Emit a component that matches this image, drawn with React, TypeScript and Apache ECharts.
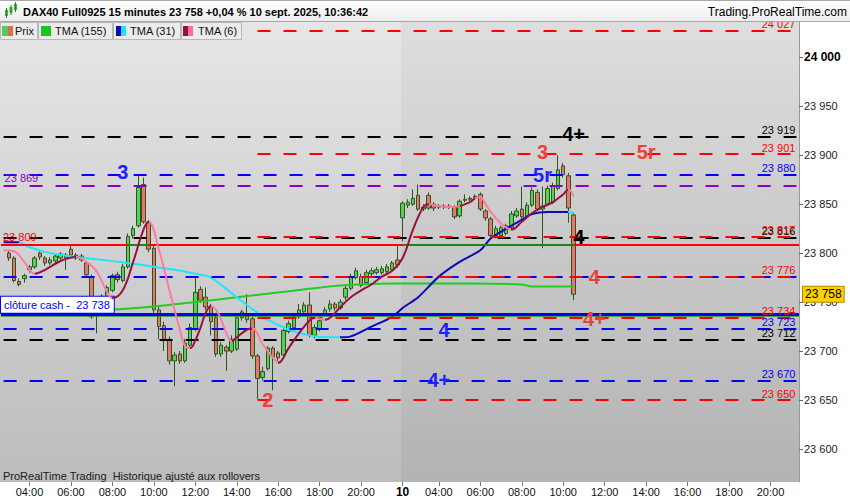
import React, { useEffect, useRef } from 'react';
import * as echarts from 'echarts';

const FONT = '"Liberation Sans", Arial, Helvetica, sans-serif';

// ---------- time axis (15-minute bars, two sessions) ----------
function buildTimes(start: string, end: string): string[] {
  const toMin = (s: string) => parseInt(s.slice(0, 2), 10) * 60 + parseInt(s.slice(3), 10);
  const out: string[] = [];
  for (let m = toMin(start); m <= toMin(end); m += 15) {
    const h = Math.floor(m / 60);
    const mm = m % 60;
    out.push(`${String(h).padStart(2, '0')}:${String(mm).padStart(2, '0')}`);
  }
  return out;
}
const day9Times = buildTimes('02:45', '21:45');
const day10Times = buildTimes('02:15', '21:15');
const categories = [...day9Times.map((t) => `9 ${t}`), ...day10Times.map((t) => `10 ${t}`)];
const lastCategory = categories[categories.length - 1];

const hourLabels = ['04:00', '06:00', '08:00', '10:00', '12:00', '14:00', '16:00', '18:00', '20:00'];
const dayStartCategory = '10 02:15';
const dayStartLabel = '10';
const yTicks = [23600, 23650, 23700, 23750, 23800, 23850, 23900, 23950, 24000];
const Y_MIN = 23566.3;
const Y_MAX = 24036;

// ---------- candles [open, close, low, high] ----------
const day9Candles: any[] = [
  '-',
  [23800, 23795, 23792, 23803], [23795, 23772, 23770, 23797], [23771, 23768, 23766, 23774],
  [23774, 23777, 23770, 23779], [23783, 23786, 23780, 23788], [23786, 23795, 23784, 23797],
  [23800, 23796, 23793, 23802], [23795, 23790, 23787, 23797], [23790, 23793, 23788, 23796],
  [23792, 23797, 23790, 23799], [23795, 23799, 23793, 23801], [23798, 23795, 23783, 23800],
  [23804, 23798, 23796, 23808], [23798, 23795, 23793, 23800], [23793, 23797, 23791, 23799],
  [23790, 23778, 23776, 23792], [23776, 23735, 23733, 23778], [23736, 23745, 23718, 23748],
  [23745, 23756, 23742, 23758], [23755, 23765, 23752, 23767], [23762, 23777, 23760, 23779],
  [23778, 23773, 23770, 23781], [23772, 23786, 23770, 23789], [23786, 23817, 23784, 23820],
  [23818, 23825, 23815, 23828], [23828, 23867, 23826, 23880], [23870, 23832, 23830, 23877],
  [23831, 23804, 23801, 23834], [23805, 23742, 23738, 23808], [23742, 23725, 23712, 23745],
  [23726, 23712, 23700, 23730], [23712, 23690, 23686, 23715], [23690, 23696, 23664, 23699],
  [23697, 23690, 23687, 23700], [23690, 23708, 23688, 23712], [23706, 23724, 23704, 23728],
  [23723, 23760, 23720, 23775], [23763, 23752, 23749, 23766], [23755, 23745, 23742, 23765],
  [23745, 23730, 23716, 23748], [23734, 23697, 23694, 23737], [23697, 23706, 23694, 23709],
  [23704, 23700, 23680, 23706], [23700, 23712, 23698, 23716], [23702, 23734, 23700, 23737],
  [23734, 23740, 23731, 23742], [23738, 23732, 23729, 23758], [23733, 23695, 23692, 23735],
  [23695, 23672, 23651, 23697], [23673, 23679, 23670, 23684], [23682, 23703, 23680, 23705],
  [23703, 23694, 23660, 23705], [23698, 23693, 23690, 23700], [23696, 23721, 23694, 23723],
  [23720, 23728, 23718, 23731], [23724, 23735, 23722, 23738], [23735, 23742, 23733, 23748],
  [23740, 23747, 23738, 23750], [23747, 23716, 23714, 23760], [23716, 23724, 23713, 23727],
  [23722, 23731, 23720, 23734], [23738, 23742, 23735, 23745], [23743, 23748, 23740, 23752],
  [23748, 23744, 23741, 23750], [23744, 23750, 23742, 23753], [23755, 23764, 23752, 23767],
  [23764, 23776, 23762, 23779], [23775, 23782, 23773, 23785], [23776, 23767, 23765, 23779],
  [23770, 23780, 23768, 23783], [23779, 23782, 23776, 23785], [23780, 23783, 23778, 23786],
  [23780, 23784, 23778, 23787], [23781, 23786, 23779, 23789], [23783, 23790, 23781, 23792],
  [23793, 23788, 23785, 23808],
];
const day10Candles: any[] = [
  [23836, 23851, 23812, 23853], [23849, 23852, 23846, 23855], [23850, 23856, 23848, 23865],
  [23859, 23845, 23843, 23870], [23845, 23847, 23843, 23850], [23859, 23846, 23844, 23862],
  [23850, 23846, 23843, 23852], [23848, 23847, 23845, 23850], [23847, 23848, 23845, 23850],
  [23848, 23847, 23845, 23850], [23847, 23837, 23835, 23849], [23838, 23853, 23836, 23855],
  [23854, 23855, 23852, 23860], [23855, 23856, 23853, 23858], [23857, 23858, 23855, 23860],
  [23860, 23845, 23843, 23862], [23843, 23836, 23833, 23845], [23835, 23818, 23815, 23837],
  [23818, 23825, 23815, 23828], [23818, 23826, 23816, 23828], [23820, 23828, 23818, 23830],
  [23826, 23840, 23824, 23843], [23838, 23843, 23836, 23846], [23845, 23837, 23835, 23868],
  [23837, 23849, 23835, 23852], [23849, 23864, 23847, 23867], [23862, 23845, 23843, 23865],
  [23845, 23848, 23805, 23868], [23850, 23866, 23848, 23869], [23852, 23868, 23850, 23872],
  [23866, 23885, 23864, 23900], [23889, 23880, 23877, 23892], [23879, 23846, 23831, 23882],
  [23839, 23758, 23752, 23841],
];
const lastPrice = 23758;

// ---------- moving averages, [bar index, value] ----------
const tma155Points = [
  [0, 23739], [13, 23740], [28, 23745], [37, 23750], [45, 23755], [55, 23761], [65, 23767],
  [75, 23769], [90, 23769], [100, 23768], [102, 23766], [110, 23766],
];
const tma31Points = [
  [0, 23811], [3, 23811], [5, 23806], [9, 23800], [14, 23796], [19, 23793], [24, 23790],
  [29, 23786], [33, 23783], [36, 23780], [40, 23775], [44, 23759], [48, 23743], [51, 23732],
  [55, 23722], [59, 23716], [63, 23714], [65, 23714], [67, 23715], [71, 23725], [75, 23735],
  [77, 23744], [80, 23755], [84, 23776], [88, 23791], [92, 23803], [94, 23815], [97, 23825],
  [100, 23834], [102, 23840], [105, 23842], [107, 23842], [109, 23842], [110, 23841],
];
const tma31Turns = [3, 65, 109]; // blue -> cyan -> blue -> cyan
const tma6Points = [
  [0, 23803], [2, 23802], [4, 23791], [6, 23779], [8, 23783], [11, 23792], [14, 23796],
  [16, 23791], [18, 23781], [20, 23760], [21, 23754], [23, 23762], [25, 23791], [27, 23824],
  [28, 23832], [30, 23803], [32, 23762], [34, 23722], [35, 23705], [36, 23703], [37, 23711],
  [38, 23724], [39, 23739], [40, 23746], [41, 23742], [42, 23732], [43, 23718], [44, 23710],
  [45, 23714], [47, 23722], [48, 23723], [50, 23707], [52, 23693], [53, 23688], [55, 23703],
  [57, 23718], [59, 23731], [60, 23734], [61, 23733], [62, 23732], [63, 23734], [65, 23745],
  [67, 23755], [69, 23762], [71, 23768], [73, 23776], [75, 23782], [77, 23795], [79, 23824],
  [81, 23847], [82, 23850], [84, 23848], [86, 23847], [88, 23848], [90, 23852], [91, 23856],
  [92, 23857], [93, 23850], [94, 23842], [96, 23830], [97, 23826], [98, 23824], [100, 23832],
  [102, 23841], [104, 23847], [106, 23852], [108, 23860], [109, 23865], [110, 23858],
];
const tma6Turns = [6, 14, 21, 28, 36, 40, 44, 48, 53, 60, 62, 82, 88, 91, 98, 109]; // starts falling

// ---------- horizontal levels ----------
const redDashedLevels = [24027, 23901, 23817, 23776, 23734, 23650];
const redDashedFrom = '9 15:00';
const blueDashedLevels = [23880, 23776, 23723, 23670];
const blueDashedUnlabelled = [23776];
const blackDashedLevels = [23919, 23816, 23712];
const purpleDashedLevel = 23869;
const redSolidLevel = 23809;
const greenSolidSegments = [['9 08:45', '9 09:45'], ['10 02:15', '10 10:30']];
const greenThinLevel = 23736.5;
const cashCloseLevel = 23738;
const cashCloseText = 'clôture cash -  23 738';

// ---------- wave annotations [text, bar, value] ----------
const blueWaves: [string, string, number][] = [
  ['3', '9 08:30', 23883], ['4', '10 04:15', 23722], ['4+', '10 04:00', 23670], ['5r', '10 09:00', 23880],
];
const redWaves: [string, string, number][] = [
  ['2', '9 15:30', 23650], ['3', '10 09:00', 23903], ['5r', '10 14:00', 23903],
  ['4', '10 11:30', 23776], ['4+', '10 11:30', 23733],
];
const blackWaves: [string, string, number][] = [
  ['4+', '10 10:30', 23922], ['4', '10 10:45', 23816],
];

const RED = '#ff0000';
const BLUE = '#0000ff';
const BLACK = '#000000';
const PURPLE = '#8a00c8';
const WAVE_BLUE = '#1f1fff';
const WAVE_RED = '#e8423a';

const fmt = (v: number) => String(Math.round(v)).replace(/\B(?=(\d{3})+(?!\d))/g, ' ');

function pieces(turns: number[], first: string, second: string) {
  const out: any[] = [];
  let prev: number | null = null;
  turns.forEach((t, k) => {
    const p: any = { color: k % 2 === 0 ? first : second, lt: t };
    if (prev !== null) p.gte = prev;
    out.push(p);
    prev = t;
  });
  out.push({ gte: prev, color: turns.length % 2 === 0 ? first : second });
  return out;
}

function dashed(value: number, color: string, from: string, withLabel: boolean) {
  return [
    {
      coord: [from, value],
      lineStyle: { color, type: [13, 13], width: 2 },
      label: withLabel
        ? { show: true, position: 'insideEndTop', formatter: fmt(value), color, fontSize: 11, fontFamily: FONT, distance: [1, 1] }
        : { show: false },
    },
    { coord: [lastCategory, value] },
  ];
}

function buildOption() {
  const lg = (a: string, b: string) =>
    new echarts.graphic.LinearGradient(0, 0, 0, 1, [
      { offset: 0, color: a },
      { offset: 1, color: b },
    ]);

  const markLines: any[] = [];
  blueDashedLevels.forEach((v) => markLines.push(dashed(v, BLUE, categories[0], !blueDashedUnlabelled.includes(v))));
  blackDashedLevels.forEach((v) => markLines.push(dashed(v, BLACK, categories[0], true)));
  const purple = dashed(purpleDashedLevel, PURPLE, categories[0], false);
  (purple[0] as any).label = {
    show: true, position: 'insideStartTop', formatter: fmt(purpleDashedLevel), color: PURPLE, fontSize: 11, fontFamily: FONT, distance: [1, 2],
  };
  markLines.push(purple);
  redDashedLevels.forEach((v) => markLines.push(dashed(v, RED, redDashedFrom, true)));
  markLines.push({
    yAxis: redSolidLevel,
    lineStyle: { color: RED, type: 'solid', width: 2 },
    label: { show: true, position: 'insideStartTop', formatter: fmt(redSolidLevel), color: RED, fontSize: 11, fontFamily: FONT, distance: [2, 2] },
  });
  greenSolidSegments.forEach(([a, b]) =>
    markLines.push([
      { coord: [a, redSolidLevel], lineStyle: { color: '#138a13', type: 'solid', width: 2 }, label: { show: false } },
      { coord: [b, redSolidLevel] },
    ])
  );
  markLines.push({ yAxis: greenThinLevel, lineStyle: { color: '#1e9a1e', type: 'solid', width: 1.5 }, label: { show: false } });
  markLines.push({
    yAxis: cashCloseLevel,
    lineStyle: { color: BLUE, type: 'solid', width: 3 },
    label: {
      show: true, position: 'insideStartTop', formatter: cashCloseText, color: BLUE, fontSize: 11, fontFamily: FONT,
      backgroundColor: '#ffffff', borderColor: BLUE, borderWidth: 1, padding: [3, 4, 2, 3], distance: [0, 1],
    },
  });
  markLines.push({
    yAxis: lastPrice,
    lineStyle: { color: 'rgba(0,0,0,0)', width: 1 },
    label: {
      show: true, position: 'end', formatter: fmt(lastPrice), color: '#000', fontSize: 12, fontFamily: FONT,
      backgroundColor: '#ffd000', borderColor: '#b08a00', borderWidth: 1, padding: [2, 2, 1, 2], distance: 4,
    },
  });

  const wavePoint = (w: [string, string, number], color: string) => ({
    coord: [w[1], w[2]],
    value: w[0],
    symbol: 'circle',
    symbolSize: 1,
    itemStyle: { color: 'rgba(0,0,0,0)' },
    label: { show: true, position: 'inside', formatter: w[0], color, fontSize: 20, fontWeight: 'bold', fontFamily: FONT },
  });
  const markPoints = [
    ...blueWaves.map((w) => wavePoint(w, WAVE_BLUE)),
    ...redWaves.map((w) => wavePoint(w, WAVE_RED)),
    ...blackWaves.map((w) => wavePoint(w, '#000')),
  ];

  const isMarked = (v: string) => {
    const [, t] = v.split(' ');
    return hourLabels.includes(t) || v === dayStartCategory;
  };

  const txt = (text: string, x: number, y: number, font: string, fill = '#111', align = 'left') => ({
    type: 'text', z: 101, silent: true,
    style: { text, x, y, font, fill, textAlign: align, textVerticalAlign: 'middle' },
  });
  const box = (x: number, w: number) => ({
    type: 'rect', z: 100, silent: true,
    shape: { x: x + 0.5, y: 22.5, width: w, height: 17 },
    style: { fill: '#ebebeb', stroke: '#b8b8b8', lineWidth: 1 },
  });
  const sq = (x: number, w: number, fill: string) => ({
    type: 'rect', z: 102, silent: true, shape: { x, y: 26, width: w, height: 10 }, style: { fill },
  });

  return {
    animation: false,
    backgroundColor: '#ffffff',
    textStyle: { fontFamily: FONT },
    grid: { left: 1, right: 51, top: 22, bottom: 18 },
    xAxis: {
      type: 'category',
      data: categories,
      boundaryGap: true,
      axisLine: { show: false },
      axisTick: { show: true, interval: (_i: number, v: string) => isMarked(v), alignWithLabel: true, length: 4, lineStyle: { color: '#777' } },
      axisLabel: {
        interval: (_i: number, v: string) => isMarked(v),
        formatter: (v: string) => (v === dayStartCategory ? `{b|${dayStartLabel}}` : v.split(' ')[1]),
        color: '#111', fontSize: 11, margin: 4, fontFamily: FONT,
        rich: { b: { fontWeight: 'bold', fontSize: 12, color: '#000', fontFamily: FONT } },
      },
      splitLine: { show: false },
    },
    yAxis: {
      type: 'value',
      position: 'right',
      min: Y_MIN,
      max: Y_MAX,
      axisLine: { show: true, lineStyle: { color: '#9a9a9a' } },
      axisTick: { show: true, length: 4, customValues: yTicks, lineStyle: { color: '#666' } },
      axisLabel: {
        customValues: yTicks,
        formatter: (v: number) => (v === 24000 ? `{b|${fmt(v)}}` : fmt(v)),
        color: '#222', fontSize: 11, margin: 5, fontFamily: FONT,
        rich: { b: { fontWeight: 'bold', fontSize: 12, color: '#000', fontFamily: FONT } },
      },
      splitLine: { show: false },
    },
    visualMap: [
      { type: 'piecewise', show: false, dimension: 0, seriesIndex: 2, pieces: pieces(tma31Turns, '#0a0ab8', '#20e4ff') },
      { type: 'piecewise', show: false, dimension: 0, seriesIndex: 3, pieces: pieces(tma6Turns, '#ff7aa2', '#9a0f3e') },
    ],
    graphic: {
      elements: [
        { type: 'rect', z: -10, silent: true, shape: { x: 0, y: 22, width: 401, height: 460 }, style: { fill: lg('#e6e6e6', '#bcbcbc') } },
        { type: 'rect', z: -10, silent: true, shape: { x: 401, y: 22, width: 398, height: 460 }, style: { fill: lg('#dedede', '#b3b3b3') } },
        { type: 'rect', z: 99, silent: true, shape: { x: -1, y: 0.5, width: 852, height: 21 }, style: { fill: lg('#ffffff', '#ececec'), stroke: '#a8a8a8', lineWidth: 1 } },
        { type: 'rect', z: 101, silent: true, shape: { x: 5, y: 10, width: 3, height: 6 }, style: { fill: '#3cb93c' } },
        { type: 'rect', z: 101, silent: true, shape: { x: 9.5, y: 7, width: 3, height: 6 }, style: { fill: '#3cb93c' } },
        { type: 'rect', z: 101, silent: true, shape: { x: 14, y: 4, width: 3, height: 6 }, style: { fill: '#3cb93c' } },
        { type: 'line', z: 101, silent: true, shape: { x1: 6.5, y1: 8, x2: 6.5, y2: 18 }, style: { stroke: '#2e7d2e', lineWidth: 1 } },
        { type: 'line', z: 101, silent: true, shape: { x1: 11, y1: 5, x2: 11, y2: 15 }, style: { stroke: '#2e7d2e', lineWidth: 1 } },
        { type: 'line', z: 101, silent: true, shape: { x1: 15.5, y1: 2, x2: 15.5, y2: 12 }, style: { stroke: '#2e7d2e', lineWidth: 1 } },
        txt('DAX40 Full0925 15 minutes 23 758 +0,04 % 10 sept. 2025, 10:36:42', 23, 12, `bold 11px ${FONT}`, '#000'),
        txt('Trading.ProRealTime.com', 847, 12, `12px ${FONT}`, '#000', 'right'),
        box(0, 37), box(38, 74), box(113, 67), box(181, 60),
        sq(2, 6, '#4fcf4f'), sq(8, 5, '#e36464'),
        sq(41, 10, '#17c617'),
        sq(116, 5, '#0a0ab8'), sq(121, 5, '#20e4ff'),
        sq(183, 5, '#9a0f3e'), sq(188, 5, '#ff6f9a'),
        txt('Prix', 15, 31, `11px ${FONT}`),
        txt('TMA (155)', 55, 31, `11px ${FONT}`),
        txt('TMA (31)', 130, 31, `11px ${FONT}`),
        txt('TMA (6)', 198, 31, `11px ${FONT}`),
        txt('ProRealTime Trading  Historique ajusté aux rollovers', 3, 476, `11px ${FONT}`, '#1a1a1a'),
      ],
    },
    series: [
      {
        type: 'candlestick',
        name: 'Prix',
        data: [...day9Candles, ...day10Candles],
        barWidth: 4,
        itemStyle: { color: '#52d452', color0: '#e8766c', borderColor: '#2e5520', borderColor0: '#2e5520', borderWidth: 1 },
        markLine: { silent: true, symbol: ['none', 'none'], animation: false, data: markLines },
        markPoint: { silent: true, animation: false, data: markPoints },
        z: 2,
      },
      {
        type: 'line', name: 'TMA (155)', data: tma155Points, smooth: 0.3, showSymbol: false, symbol: 'none',
        lineStyle: { color: '#22cc22', width: 2 }, z: 3,
      },
      {
        type: 'line', name: 'TMA (31)', data: tma31Points, smooth: 0.3, showSymbol: false, symbol: 'none',
        lineStyle: { width: 2 }, z: 4,
      },
      {
        type: 'line', name: 'TMA (6)', data: tma6Points, smooth: 0.4, showSymbol: false, symbol: 'none',
        lineStyle: { width: 2 }, z: 5,
      },
    ],
  };
}

export default function App() {
  const ref = useRef<HTMLDivElement>(null);
  useEffect(() => {
    if (!ref.current) return;
    const chart = echarts.init(ref.current, null, { renderer: 'svg' });
    chart.setOption(buildOption() as any);
    return () => chart.dispose();
  }, []);
  return (
    <div
      ref={ref}
      style={{ position: 'fixed', left: 0, top: 0, width: 850, height: 500, background: '#fff' }}
    />
  );
}
